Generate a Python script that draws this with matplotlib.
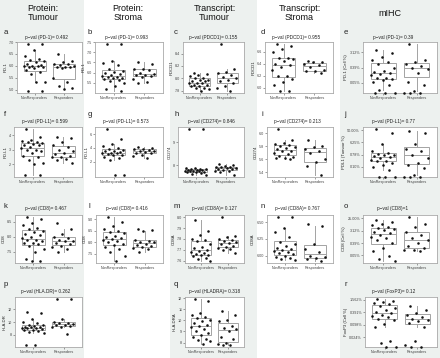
import numpy as np
import matplotlib
matplotlib.use("Agg")
import matplotlib.pyplot as plt

plt.rcParams['font.family'] = ['Liberation Sans', 'DejaVu Sans']

W, H = 440, 358

column_titles = ["Protein:\nTumour", "Protein:\nStroma", "Transcript:\nTumour", "Transcript:\nStroma", "mIHC"]
groups = ["NonResponders", "Responders"]

# ---------------- data ----------------
a_nr = [6.9, 6.9, 6.65, 6.4, 6.3, 6.25, 6.2, 6.15, 6.1, 6.05, 6.0, 6.0, 5.98, 5.95, 5.95, 5.9, 5.85, 5.75, 5.65, 5.35, 5.35, 4.97, 4.97]
a_r = [6.5, 6.2, 6.15, 6.1, 6.1, 6.05, 6.0, 5.95, 5.95, 5.95, 5.9, 5.5, 5.35, 5.15, 5.1, 5.05]
b_nr = [7.4, 7.4, 6.55, 6.45, 6.35, 6.2, 6.1, 6.05, 6.0, 5.95, 5.9, 5.85, 5.8, 5.8, 5.75, 5.75, 5.7, 5.65, 5.6, 5.5, 5.35, 5.2, 5.1]
b_r = [6.5, 6.4, 6.2, 6.2, 6.15, 6.0, 5.95, 5.9, 5.9, 5.85, 5.8, 5.7, 5.55, 5.5]
c_nr = [8.08, 8.07, 8.05, 8.03, 8.0, 8.0, 7.98, 7.97, 7.96, 7.95, 7.93, 7.92, 7.92, 7.9, 7.9, 7.88, 7.87, 7.85, 7.85, 7.83, 7.8]
c_r = [8.55, 8.15, 8.1, 8.08, 8.05, 8.02, 8.0, 7.98, 7.95, 7.93, 7.88, 7.85, 7.8]
d_nr = [6.72, 6.7, 6.65, 6.6, 6.5, 6.5, 6.48, 6.45, 6.4, 6.37, 6.35, 6.3, 6.2, 6.2, 6.15, 6.1, 6.05, 5.95, 5.95]
d_r = [6.45, 6.43, 6.42, 6.4, 6.38, 6.35, 6.3, 6.28, 6.27, 6.25]
e_nr = [3.98, 2.70, 1.66, 1.03, 0.81, 0.63, 0.39, 0.24, 0.22, 0.19, 0.163, 0.134, 0.101, 0.092, 0.083, 0.072, 0.057, 0.038, 0.0195, 0, 0, 0]
e_r = [9.1, 1.03, 0.81, 0.63, 0.50, 0.39, 0.31, 0.19, 0.057, 0.035, 0.017, 0, 0, 0]
f_nr = [4.4, 3.9, 3.7, 3.6, 3.5, 3.5, 3.45, 3.4, 3.35, 3.3, 3.2, 3.1, 3.0, 3.0, 2.9, 2.8, 2.6, 2.5, 2.3, 2.1, 2.05, 1.3, 1.3]
f_r = [3.9, 3.8, 3.5, 3.3, 3.2, 3.0, 2.9, 2.8, 2.7, 2.6, 2.5, 2.5, 2.4, 2.3, 2.1]
g_nr = [6.7, 5.3, 4.6, 4.2, 4.0, 3.8, 3.7, 3.6, 3.5, 3.4, 3.3, 3.3, 3.2, 3.1, 3.0, 2.9, 2.7, 2.5, 2.3, 0.1, 0.1]
g_r = [4.1, 4.0, 3.9, 3.8, 3.7, 3.6, 3.5, 3.4, 3.3, 3.2, 3.0, 2.8, 2.6]
h_nr = [9.55, 9.55, 7.9, 7.88, 7.85, 7.85, 7.83, 7.82, 7.8, 7.8, 7.78, 7.77, 7.75, 7.75, 7.73, 7.72, 7.7, 7.68, 7.65, 7.6]
h_r = [8.05, 8.0, 7.98, 7.95, 7.93, 7.92, 7.9, 7.88, 7.85, 7.83, 7.8, 7.78, 7.75, 7.7, 7.6]
i_nr = [6.06, 5.9, 5.85, 5.83, 5.82, 5.8, 5.78, 5.77, 5.75, 5.73, 5.72, 5.7, 5.68, 5.65, 5.63, 5.62, 5.62, 5.6]
i_r = [5.9, 5.8, 5.78, 5.75, 5.72, 5.7, 5.6, 5.55, 5.5, 5.36]
j_nr = [59.5, 33.4, 4.4, 1.39, 1.05, 0.88, 0.78, 0.70, 0.58, 0.49, 0.44, 0.33, 0.28, 0.25, 0.18, 0.14, 0.087, 0.058, 0, 0, 0]
j_r = [44, 33.4, 4.4, 2.2, 1.39, 0.78, 0.44, 0.18, 0.14, 0.078, 0.025, 0, 0, 0]
k_nr = [8.65, 8.6, 8.45, 8.4, 8.3, 8.25, 8.2, 8.15, 8.1, 8.05, 8.0, 7.95, 7.9, 7.9, 7.85, 7.8, 7.8, 7.75, 7.7, 7.6, 7.5, 7.25, 7.2, 7.2]
k_r = [8.45, 8.25, 8.1, 8.0, 7.95, 7.9, 7.85, 7.85, 7.8, 7.75, 7.7, 7.65, 7.6, 7.5]
l_nr = [9.1, 8.9, 8.7, 8.6, 8.5, 8.45, 8.4, 8.3, 8.25, 8.2, 8.15, 8.1, 8.05, 8.0, 7.95, 7.9, 7.8, 7.7, 7.6, 7.4, 7.2]
l_r = [8.6, 8.55, 8.5, 8.1, 8.05, 8.0, 8.0, 7.95, 7.9, 7.85, 7.8, 7.75, 7.7, 7.6]
m_nr = [7.97, 7.87, 7.84, 7.8, 7.79, 7.78, 7.75, 7.73, 7.72, 7.7, 7.69, 7.68, 7.67, 7.66, 7.65, 7.65, 7.64, 7.63, 7.62, 7.6]
m_r = [8.0, 7.83, 7.82, 7.8, 7.79, 7.78, 7.77, 7.76, 7.75, 7.74, 7.73, 7.72, 7.71, 7.7, 7.67]
n_nr = [6.58, 6.58, 6.42, 6.35, 6.28, 6.2, 6.18, 6.15, 6.12, 6.1, 6.08, 6.07, 6.05, 6.04, 6.02, 6.0, 5.98, 5.97, 5.95, 5.93]
n_r = [6.47, 6.45, 6.18, 6.1, 6.05, 6.0, 5.98, 5.96, 5.95, 5.92]
o_nr = [17.2, 13.1, 10.0, 7.6, 5.8, 4.45, 3.8, 3.4, 2.6, 1.98, 1.51, 1.15, 0.88, 0.67, 0.39, 0.17, 0.10, 0.045, 0.026, 0.020]
o_r = [29.5, 10.0, 5.8, 2.6, 1.51, 0.88, 0.67, 0.39, 0.23, 0.17, 0.13, 0.13, 0.10]
p_nr = [11.5, 11.4, 10.5, 10.0, 9.8, 9.6, 9.5, 9.4, 9.3, 9.2, 9.2, 9.1, 9.0, 9.0, 8.9, 8.8, 8.7, 8.6, 8.5, 8.3, 6.5, 6.5]
p_r = [13.5, 13.5, 10.5, 10.0, 9.9, 9.8, 9.7, 9.6, 9.5, 9.4, 9.3, 9.2, 8.2]
q_nr = [11.9, 11.7, 10.7, 10.5, 10.3, 10.2, 10.0, 9.9, 9.8, 9.6, 9.5, 9.4, 9.2, 9.0, 8.9, 8.7, 8.5, 8.3, 8.2, 8.1, 7.9]
q_r = [10.8, 10.5, 10.0, 9.9, 9.5, 9.3, 9.2, 9.0, 8.5, 8.3, 8.0, 7.9, 7.8, 7.8]
r_nr = [1.64, 1.35, 1.2, 1.03, 0.92, 0.76, 0.62, 0.51, 0.42, 0.35, 0.29, 0.25, 0.24, 0.19, 0.16, 0.108, 0.074, 0.0155, 0.0128, 0, 0]
r_r = [0.76, 0.51, 0.35, 0.29, 0.24, 0.19, 0.172, 0.148, 0.117, 0.074, 0.0155, 0.0106, 0, 0]

titles = {
    'a': "p\u2212val (PD-1)= 0.492", 'b': "p\u2212val (PD-1)= 0.993", 'c': "p\u2212val (PDCD1)= 0.155",
    'd': "p\u2212val (PDCD1)= 0.955", 'e': "p\u2212val (PD-1)= 0.39", 'f': "p\u2212val (PD-L1)= 0.599",
    'g': "p\u2212val (PD-L1)= 0.573", 'h': "p\u2212val (CD274)= 0.846", 'i': "p\u2212val (CD274)= 0.213",
    'j': "p\u2212val (PD-L1)= 0.77", 'k': "p\u2212val (CD8)= 0.467", 'l': "p\u2212val (CD8)= 0.416",
    'm': "p\u2212val (CD8A)= 0.127", 'n': "p\u2212val (CD8A)= 0.767", 'o': "p\u2212val (CD8)=1",
    'p': "p\u2212val (HLA.DR)= 0.262", 'q': "p\u2212val (HLADRA)= 0.318", 'r': "p\u2212val (FoxP3)= 0.12",
}
ylabels = {
    'a': "PD-1", 'b': "PD-1", 'c': "PDCD1", 'd': "PDCD1", 'e': "PD-1 (Cell %)",
    'f': "PD.L1", 'g': "PD.L1", 'h': "CD274", 'i': "CD274", 'j': "PDL1 (Tumour %)",
    'k': "CD8", 'l': "CD8", 'm': "CD8A", 'n': "CD8A", 'o': "CD8 (Cell %)",
    'p': "HLA.DR", 'q': "HLA.DRA", 'r': "FoxP3 (Cell %)",
}
yticks = {
    'a': [5.0, 5.5, 6.0, 6.5, 7.0], 'b': [5.5, 6.0, 6.5, 7.0, 7.5], 'c': [7.8, 8.0, 8.2, 8.4],
    'd': [6.0, 6.2, 6.4, 6.6], 'e': [3.125, 0.390625, 0.048828125],
    'f': [2, 3, 4], 'g': [2, 4, 6], 'h': [8, 9], 'i': [5.4, 5.6, 5.8, 6.0],
    'j': [50, 6.25, 0.78125, 0.09765625],
    'k': [7.5, 8.0, 8.5], 'l': [7.5, 8.0, 8.5, 9.0], 'm': [7.6, 7.7, 7.8, 7.9, 8.0],
    'n': [6.00, 6.25, 6.50], 'o': [25, 3.125, 0.390625, 0.048828125],
    'p': [8, 10, 12], 'q': [8, 9, 10, 11, 12], 'r': [1.5625, 0.390625, 0.09765625, 0.0244140625],
}
yticklabels = {
    'a': ["5.0", "5.5", "6.0", "6.5", "7.0"], 'b': ["5.5", "6.0", "6.5", "7.0", "7.5"],
    'c': ["7.8", "8.0", "8.2", "8.4"], 'd': ["6.0", "6.2", "6.4", "6.6"],
    'e': ["3.12%", "0.39%", "0.05%"], 'f': ["2", "3", "4"], 'g': ["2", "4", "6"],
    'h': ["8", "9"], 'i': ["5.4", "5.6", "5.8", "6.0"],
    'j': ["50.00%", "6.25%", "0.78%", "0.10%"], 'k': ["7.5", "8.0", "8.5"],
    'l': ["7.5", "8.0", "8.5", "9.0"], 'm': ["7.6", "7.7", "7.8", "7.9", "8.0"],
    'n': ["6.00", "6.25", "6.50"], 'o': ["25.00%", "3.12%", "0.39%", "0.05%"],
    'p': ["8", "10", "12"], 'q': ["8", "9", "10", "11", "12"],
    'r': ["1.562%", "0.391%", "0.098%", "0.024%"],
}
panel_data = {
    'a': (a_nr, a_r), 'b': (b_nr, b_r), 'c': (c_nr, c_r), 'd': (d_nr, d_r), 'e': (e_nr, e_r),
    'f': (f_nr, f_r), 'g': (g_nr, g_r), 'h': (h_nr, h_r), 'i': (i_nr, i_r), 'j': (j_nr, j_r),
    'k': (k_nr, k_r), 'l': (l_nr, l_r), 'm': (m_nr, m_r), 'n': (n_nr, n_r), 'o': (o_nr, o_r),
    'p': (p_nr, p_r), 'q': (q_nr, q_r), 'r': (r_nr, r_r),
}
log_panels = {'e', 'j', 'o', 'r'}

# ---------------- layout (pixels) ----------------
col_x0 = [0, 84, 170, 257, 340]
col_x1 = [84, 170, 257, 340, 440]
box_right = [82, 163, 244, 333, 437]
row_top = [42, 127, 215, 297]
row_bot = [93, 177, 263, 347]
letter_y = [32, 115, 207, 285]
pval_y = [37, 122, 208, 291]
header_dx = [1, 1, 1, 1, 0]
title_dx = [-3, -3, 0, -3, -7]
grid = {
    'a': (0, 0, 17), 'b': (0, 1, 95), 'c': (0, 2, 183), 'd': (0, 3, 265), 'e': (0, 4, 363),
    'f': (1, 0, 14), 'g': (1, 1, 95), 'h': (1, 2, 178), 'i': (1, 3, 267), 'j': (1, 4, 363),
    'k': (2, 0, 15), 'l': (2, 1, 96), 'm': (2, 2, 185), 'n': (2, 3, 267), 'o': (2, 4, 363),
    'p': (3, 0, 15), 'q': (3, 2, 185), 'r': (3, 4, 365),
}

BG = '#edf1ef'
BORDER = '#a9a9a9'
BOXC = '#a3a3a3'

fig = plt.figure(figsize=(W / 100, H / 100), dpi=100)

# column backgrounds (drawn in a full-figure axes behind everything)
bg_ax = fig.add_axes([0, 0, 1, 1], zorder=-10)
bg_ax.set_xlim(0, W)
bg_ax.set_ylim(H, 0)
bg_ax.axis('off')
for ci in (0, 2, 4):
    bg_ax.add_patch(plt.Rectangle((col_x0[ci], 0), col_x1[ci] - col_x0[ci], H,
                                  color=BG, linewidth=0))

# column headers
for ci, t in enumerate(column_titles):
    cx = (col_x0[ci] + col_x1[ci]) / 2 + header_dx[ci]
    fig.text(cx / W, 1 - 13 / H, t, ha='center', va='center', fontsize=6.5,
             linespacing=1.05, color='#111111')


def px_axes(l, t, r, b):
    return fig.add_axes([l / W, 1 - b / H, (r - l) / W, (b - t) / H])


for key, (ri, ci, left) in grid.items():
    nr, rr = panel_data[key]
    is_log = key in log_panels
    ax = px_axes(left, row_top[ri], box_right[ci], row_bot[ri])
    fin = []
    for grp in (nr, rr):
        g = np.asarray(grp, float)
        fin.append(np.log2(g[g > 0]) if is_log else g)
    allv = np.concatenate(fin)
    lo, hi = allv.min(), allv.max()
    pad = 0.05 * (hi - lo)
    ylo, yhi = lo - pad, hi + pad
    ax.set_xlim(0.4, 2.6)
    ax.set_ylim(ylo, yhi)
    ax.boxplot(fin, positions=[1, 2], widths=0.75, showfliers=False, showcaps=False,
               patch_artist=True,
               boxprops=dict(facecolor='white', edgecolor=BOXC, linewidth=0.7),
               medianprops=dict(color=BOXC, linewidth=0.7),
               whiskerprops=dict(color=BOXC, linewidth=0.7), zorder=1)
    for k, grp in enumerate((nr, rr)):
        g = np.asarray(grp, float)
        if is_log:
            y = np.where(g > 0, np.log2(np.where(g > 0, g, 1.0)), ylo)
        else:
            y = g
        n = len(g)
        off = ((np.arange(n) * 0.618034 + 0.21) % 1 - 0.5) * 0.76
        ax.scatter(k + 1 + off, y, s=3.4, c='#111111', linewidths=0, zorder=3, clip_on=False)
    tv = yticks[key]
    if is_log:
        tv = list(np.log2(tv))
    ax.set_yticks(tv)
    ax.set_yticklabels(yticklabels[key])
    ax.set_xticks([1, 2])
    ax.set_xticklabels(groups)
    ax.tick_params(axis='both', length=1.2, width=0.4, color='#555555', labelcolor='#444444',
                   pad=0.8)
    ax.tick_params(axis='y', labelsize=2.7)
    ax.tick_params(axis='x', labelsize=2.7)
    ax.set_ylabel(ylabels[key], fontsize=3.1, labelpad=1.2, color='#222222')
    for sp in ax.spines.values():
        sp.set_color(BORDER)
        sp.set_linewidth(0.6)
    # letter + p-value title
    fig.text((col_x0[ci] + 4) / W, 1 - letter_y[ri] / H, key, ha='left', va='center',
             fontsize=5.6, color='#222222')
    tcx = (left + box_right[ci]) / 2 + title_dx[ci]
    fig.text(tcx / W, 1 - pval_y[ri] / H, titles[key], ha='center', va='center',
             fontsize=3.4, color='#222222')

fig.savefig('out.png', dpi=100, facecolor='white')
